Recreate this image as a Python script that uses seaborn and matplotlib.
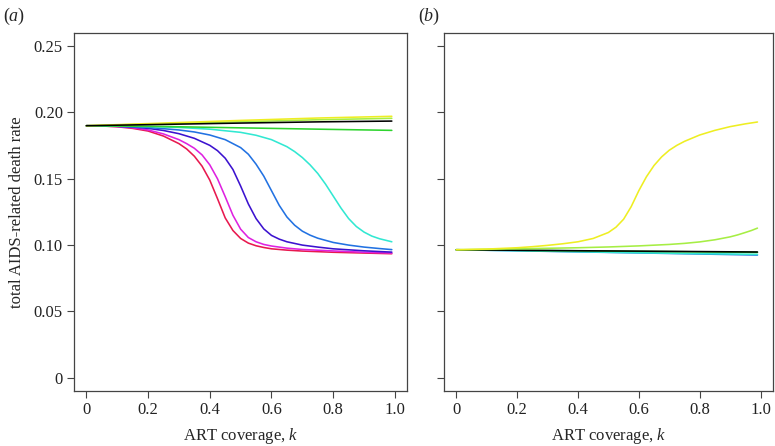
import numpy as np
import pandas as pd
import matplotlib
matplotlib.use("Agg")
import matplotlib.pyplot as plt
import seaborn as sns

# ---- data ----
# panel (a)
a_red_k     = [0, 0.05, 0.1, 0.15, 0.2, 0.25, 0.3, 0.325, 0.35, 0.375, 0.4, 0.425, 0.45, 0.475,
               0.5, 0.525, 0.55, 0.575, 0.6, 0.65, 0.7, 0.8, 0.9, 0.99]
a_red       = [0.190, 0.1898, 0.1892, 0.1880, 0.1860, 0.1822, 0.1765, 0.1725, 0.1670, 0.1595,
               0.1490, 0.1350, 0.1205, 0.1110, 0.1050, 0.1015, 0.0995, 0.0982, 0.0972, 0.0962,
               0.0955, 0.0946, 0.0940, 0.0935]
a_magenta_k = [0, 0.05, 0.1, 0.15, 0.2, 0.25, 0.3, 0.325, 0.35, 0.375, 0.4, 0.425, 0.45, 0.475,
               0.5, 0.525, 0.55, 0.575, 0.6, 0.65, 0.7, 0.8, 0.9, 0.99]
a_magenta   = [0.190, 0.1898, 0.1894, 0.1885, 0.1868, 0.1838, 0.1795, 0.1765, 0.1730, 0.1680,
               0.1605, 0.1500, 0.1365, 0.1225, 0.1120, 0.1057, 0.1025, 0.1005, 0.0993, 0.0977,
               0.0967, 0.0956, 0.0946, 0.0940]
a_indigo_k  = [0, 0.05, 0.1, 0.15, 0.2, 0.25, 0.3, 0.35, 0.4, 0.425, 0.45, 0.475, 0.5, 0.525,
               0.55, 0.575, 0.6, 0.625, 0.65, 0.7, 0.75, 0.8, 0.9, 0.99]
a_indigo    = [0.190, 0.1899, 0.1896, 0.1890, 0.1880, 0.1864, 0.1840, 0.1805, 0.1752, 0.1712,
               0.1655, 0.1570, 0.1445, 0.1310, 0.1200, 0.1122, 0.1073, 0.1045, 0.1025, 0.1000,
               0.0985, 0.0972, 0.0957, 0.0947]
a_blue_k    = [0, 0.1, 0.2, 0.3, 0.35, 0.4, 0.45, 0.5, 0.525, 0.55, 0.575, 0.6, 0.625, 0.65,
               0.675, 0.7, 0.725, 0.75, 0.8, 0.85, 0.9, 0.95, 0.99]
a_blue      = [0.190, 0.1896, 0.1887, 0.1868, 0.1853, 0.1830, 0.1795, 0.1735, 0.1685, 0.1610,
               0.1520, 0.1410, 0.1300, 0.1212, 0.1150, 0.1105, 0.1075, 0.1052, 0.1020, 0.1000,
               0.0985, 0.0974, 0.0966]
a_cyan_k    = [0, 0.1, 0.2, 0.3, 0.4, 0.5, 0.55, 0.6, 0.65, 0.675, 0.7, 0.725, 0.75, 0.775,
               0.8, 0.825, 0.85, 0.875, 0.9, 0.925, 0.95, 0.99]
a_cyan      = [0.190, 0.1898, 0.1894, 0.1887, 0.1874, 0.1850, 0.1828, 0.1795, 0.1742, 0.1705,
               0.1660, 0.1605, 0.1540, 0.1460, 0.1370, 0.1280, 0.1200, 0.1140, 0.1098, 0.1068,
               0.1048, 0.1025]
a_flat_k    = [0, 0.25, 0.5, 0.75, 0.99]
a_green     = [0.190, 0.1894, 0.1884, 0.1874, 0.1865]
a_ygreen    = [0.190, 0.1915, 0.1930, 0.1945, 0.1956]
a_yellow    = [0.190, 0.1920, 0.1940, 0.1958, 0.1971]
a_black     = [0.190, 0.1910, 0.1920, 0.1929, 0.1935]

# panel (b)
b_flat_k    = [0, 0.25, 0.5, 0.75, 0.99]
b_blue      = [0.0965, 0.0955, 0.0945, 0.0935, 0.0925]
b_cyan      = [0.0965, 0.0956, 0.0946, 0.0937, 0.0930]
b_green     = [0.0965, 0.0960, 0.0955, 0.0950, 0.0945]
b_black     = [0.0965, 0.0960, 0.0956, 0.0952, 0.0948]
b_ygreen_k  = [0, 0.2, 0.4, 0.5, 0.6, 0.7, 0.75, 0.8, 0.85, 0.9, 0.925, 0.95, 0.97, 0.99]
b_ygreen    = [0.0965, 0.0972, 0.0980, 0.0986, 0.0994, 0.1005, 0.1013, 0.1024, 0.1040, 0.1062,
               0.1077, 0.1095, 0.1110, 0.1128]
b_yellow_k  = [0, 0.1, 0.2, 0.25, 0.3, 0.35, 0.4, 0.45, 0.5, 0.525, 0.55, 0.575, 0.6, 0.625,
               0.65, 0.675, 0.7, 0.725, 0.75, 0.8, 0.85, 0.9, 0.95, 0.99]
b_yellow    = [0.0965, 0.0970, 0.0980, 0.0988, 0.0998, 0.1010, 0.1025, 0.1050, 0.1095, 0.1135,
               0.1195, 0.1290, 0.1410, 0.1515, 0.1600, 0.1665, 0.1715, 0.1752, 0.1782, 0.1830,
               0.1865, 0.1893, 0.1914, 0.1928]

x_ticks = [0, 0.2, 0.4, 0.6, 0.8, 1.0]
x_ticklabels = ["0", "0.2", "0.4", "0.6", "0.8", "1.0"]
y_ticks = [0, 0.05, 0.10, 0.15, 0.20, 0.25]
y_ticklabels = ["0", "0.05", "0.10", "0.15", "0.20", "0.25"]

colors = {
    "red": "#E8194F", "magenta": "#DE22E0", "indigo": "#3C12CF",
    "blue": "#2272E2", "cyan": "#32E8D2", "green": "#2ED42E",
    "ygreen": "#A6EE44", "yellow": "#EEEE22", "black": "#000000",
}

panel_a = [("red", a_red_k, a_red), ("magenta", a_magenta_k, a_magenta),
           ("indigo", a_indigo_k, a_indigo), ("blue", a_blue_k, a_blue),
           ("cyan", a_cyan_k, a_cyan), ("green", a_flat_k, a_green),
           ("ygreen", a_flat_k, a_ygreen), ("yellow", a_flat_k, a_yellow),
           ("black", a_flat_k, a_black)]
panel_b = [("blue", b_flat_k, b_blue), ("cyan", b_flat_k, b_cyan),
           ("green", b_flat_k, b_green), ("black", b_flat_k, b_black),
           ("ygreen", b_ygreen_k, b_ygreen), ("yellow", b_yellow_k, b_yellow)]


def long_df(curves):
    rows = []
    for name, ks, vals in curves:
        for x, y in zip(ks, vals):
            rows.append((name, x, y))
    return pd.DataFrame(rows, columns=["curve", "k", "rate"])


sns.set_theme(style="ticks")
plt.rcParams["font.family"] = ["Liberation Serif", "DejaVu Serif"]
plt.rcParams["mathtext.fontset"] = "custom"
plt.rcParams["mathtext.rm"] = "Liberation Serif"
plt.rcParams["mathtext.it"] = "Liberation Serif:italic"

fig = plt.figure(figsize=(7.75, 4.46), dpi=100)
ax_a = fig.add_axes([0.0955, 0.1233, 0.430, 0.803])
ax_b = fig.add_axes([0.573, 0.1233, 0.424, 0.803])

for ax, curves in ((ax_a, panel_a), (ax_b, panel_b)):
    df = long_df(curves)
    sns.lineplot(data=df, x="k", y="rate", hue="curve",
                 hue_order=[c[0] for c in curves],
                 palette=colors, estimator=None, sort=False, linewidth=1.15,
                 legend=False, ax=ax)
    ax.set_xlim(-0.04, 1.04)
    ax.set_ylim(-0.01, 0.26)
    ax.set_xticks(x_ticks)
    ax.set_xticklabels(x_ticklabels)
    ax.set_yticks(y_ticks)
    ax.set_xlabel("ART coverage, $k$", fontsize=12, labelpad=6)
    for s in ax.spines.values():
        s.set_visible(True)
        s.set_color("#444444")
        s.set_linewidth(0.9)
    ax.tick_params(axis="both", direction="out", length=5, width=0.8,
                   color="#444444", labelsize=12, pad=3, labelcolor="#222222")

ax_a.set_yticklabels(y_ticklabels)
ax_a.set_ylabel("total AIDS-related death rate", fontsize=12, labelpad=6)
ax_b.set_yticklabels([])
ax_b.set_ylabel("")

fig.text(0.004, 0.963, "($a$)", fontsize=13, va="center", ha="left")
fig.text(0.540, 0.963, "($b$)", fontsize=13, va="center", ha="left")

fig.savefig("out.png", dpi=100)
